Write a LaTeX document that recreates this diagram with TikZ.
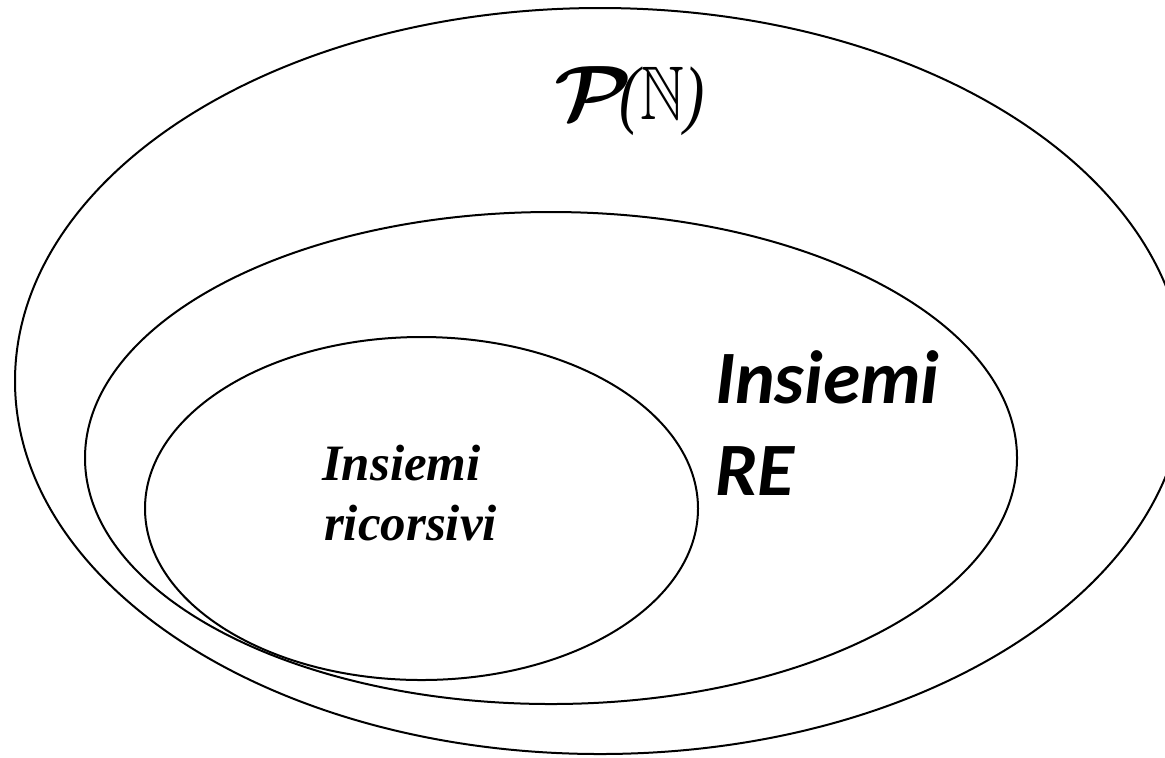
\documentclass[tikz,border=0pt]{standalone}
\usepackage{amsmath}
\usepackage{amssymb}
\usepackage{bm}
\usepackage{fontspec}
\newfontfamily\refont{Carlito}
\newfontfamily\ricfont{Liberation Serif}
\usetikzlibrary{positioning}

\begin{document}
\begin{tikzpicture}[x=0.5pt,y=-0.5pt,line width=1pt]
		% riquadro della figura
		\useasboundingbox (0,0) rectangle (1165,757);
		% centri degli insiemi
		\coordinate (PN) at (600,381);
		\coordinate (RE) at (551,458);
		\coordinate (RIC) at (421.5,508.5);
		
		% insiemi annidati
		\draw (PN) ellipse [x radius=585, y radius=373];
		\draw (RE) ellipse [x radius=466, y radius=246];
		\draw (RIC) ellipse [x radius=276.5, y radius=171.5];
		
		% etichette
		\node[anchor=base west,inner sep=0pt] (lblPN) at (553,119) {\fontsize{38}{40}\selectfont\scalebox{1.75}[1.55]{$\bm{\mathcal{P}}$}\kern-6pt\scalebox{0.8}[1]{\ricfont\itshape($\mathbb{N}$)}};
		\node[anchor=base west,inner sep=0pt] (lblRE1) at (714,403) {\fontsize{37.7}{46}\selectfont\refont\bfseries\itshape Insiemi};
		\node[anchor=base west,inner sep=0pt] (lblRE2) at (714,495) {\fontsize{37.7}{46}\selectfont\refont\bfseries\itshape RE};
		\node[anchor=base west,inner sep=0pt] (lblRIC1) at (321,480) {\fontsize{25.5}{31}\selectfont\ricfont\bfseries\itshape Insiemi};
		\node[anchor=base west,inner sep=0pt] (lblRIC2) at (323,540) {\fontsize{25.5}{31}\selectfont\ricfont\bfseries\itshape ricorsivi};
	\end{tikzpicture}
\end{document}
